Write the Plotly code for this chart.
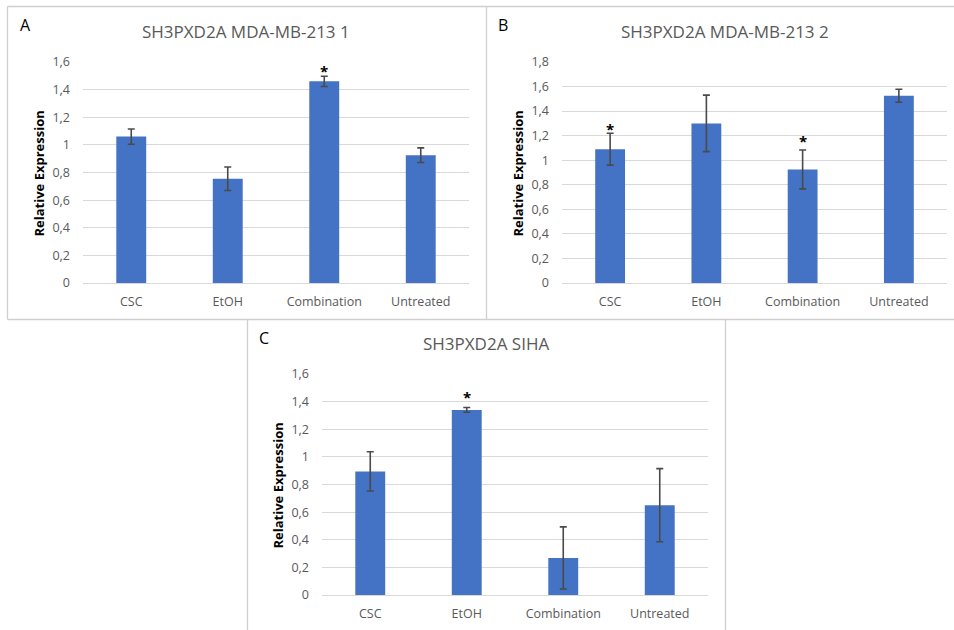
import plotly.graph_objects as go

W, H = 954, 630

categories = ["CSC", "EtOH", "Combination", "Untreated"]

# Panel A: SH3PXD2A MDA-MB-213 1
a_values = [1.06, 0.755, 1.46, 0.925]
a_errors = [0.055, 0.085, 0.037, 0.053]
a_stars = [None, None, 1.555, None]
a_ticks = [0, 0.2, 0.4, 0.6, 0.8, 1.0, 1.2, 1.4, 1.6]
a_ticktext = ["0", "0,2", "0,4", "0,6", "0,8", "1", "1,2", "1,4", "1,6"]

# Panel B: SH3PXD2A MDA-MB-213 2
b_values = [1.09, 1.30, 0.925, 1.525]
b_errors = [0.13, 0.23, 0.158, 0.053]
b_stars = [1.275, None, 1.18, None]
b_ticks = [0, 0.2, 0.4, 0.6, 0.8, 1.0, 1.2, 1.4, 1.6, 1.8]
b_ticktext = ["0", "0,2", "0,4", "0,6", "0,8", "1", "1,2", "1,4", "1,6", "1,8"]

# Panel C: SH3PXD2A SIHA
c_values = [0.895, 1.34, 0.268, 0.65]
c_errors = [0.142, 0.017, 0.225, 0.265]
c_stars = [None, 1.455, None, None]
c_ticks = a_ticks
c_ticktext = a_ticktext

BAR = "#4472C4"
GRID = "#D9D9D9"
TXT = "#595959"
ERR = "#4A4A4A"
FONT = "Open Sans, Noto Sans, sans-serif"


def px_x(x):
    return x / W


def px_y(y):
    return 1 - y / H


panels = [
    dict(letter="A", title="SH3PXD2A MDA-MB-213 1", values=a_values, errors=a_errors,
         stars=a_stars, ticks=a_ticks, ticktext=a_ticktext, ymax=1.6,
         plot=(83, 469, 62, 283), title_xy=(246, 31), letter_xy=(25, 25), ytitle_x=38),
    dict(letter="B", title="SH3PXD2A MDA-MB-213 2", values=b_values, errors=b_errors,
         stars=b_stars, ticks=b_ticks, ticktext=b_ticktext, ymax=1.8,
         plot=(562, 947, 62, 283), title_xy=(725, 31), letter_xy=(503, 25), ytitle_x=517),
    dict(letter="C", title="SH3PXD2A SIHA", values=c_values, errors=c_errors,
         stars=c_stars, ticks=c_ticks, ticktext=c_ticktext, ymax=1.6,
         plot=(322, 708, 374, 595), title_xy=(486, 344), letter_xy=(264, 338), ytitle_x=277),
]

fig = go.Figure()
annotations = []
shapes = []
layout_axes = {}

for i, p in enumerate(panels, start=1):
    xa = "x" if i == 1 else f"x{i}"
    ya = "y" if i == 1 else f"y{i}"
    fig.add_trace(go.Bar(
        x=categories, y=p["values"], xaxis=xa, yaxis=ya,
        marker=dict(color=BAR, line=dict(width=0)),
        error_y=dict(type="data", array=p["errors"], visible=True,
                     color=ERR, thickness=1.6, width=3.5),
        showlegend=False, hoverinfo="skip",
    ))
    x0, x1, y0, y1 = p["plot"]
    xkey = "xaxis" if i == 1 else f"xaxis{i}"
    ykey = "yaxis" if i == 1 else f"yaxis{i}"
    layout_axes[xkey] = dict(
        domain=[px_x(x0), px_x(x1)], anchor=ya, showgrid=False, showline=False,
        zeroline=False, ticks="", tickfont=dict(family=FONT, size=12.5, color=TXT),
        ticklabelstandoff=9, fixedrange=True, automargin=False,
    )
    layout_axes[ykey] = dict(
        domain=[px_y(y1), px_y(y0)], anchor=xa, range=[0, p["ymax"]],
        tickvals=p["ticks"], ticktext=p["ticktext"], showgrid=True, gridcolor=GRID,
        gridwidth=1.3, zeroline=True, zerolinecolor=GRID, zerolinewidth=1.3,
        showline=False, ticks="", tickfont=dict(family=FONT, size=12.5, color=TXT),
        ticklabelstandoff=12, fixedrange=True, automargin=False,
    )
    # chart title
    annotations.append(dict(
        text=p["title"], x=px_x(p["title_xy"][0]), y=px_y(p["title_xy"][1]),
        xref="paper", yref="paper", xanchor="center", yanchor="middle",
        showarrow=False, font=dict(family=FONT, size=17, color=TXT),
    ))
    # panel letter
    annotations.append(dict(
        text=p["letter"], x=px_x(p["letter_xy"][0]), y=px_y(p["letter_xy"][1]),
        xref="paper", yref="paper", xanchor="center", yanchor="middle",
        showarrow=False, font=dict(family=FONT, size=16, color="#000000"),
    ))
    # y-axis title
    annotations.append(dict(
        text="<b>Relative Expression</b>", x=px_x(p["ytitle_x"]),
        y=px_y((y0 + y1) / 2 + 1), xref="paper", yref="paper",
        xanchor="center", yanchor="middle", textangle=-90, showarrow=False,
        font=dict(family=FONT, size=13, color="#000000"),
    ))
    # significance markers
    for cat, s in zip(categories, p["stars"]):
        if s is None:
            continue
        annotations.append(dict(
            text="<b>*</b>", x=cat, y=s, xref=xa, yref=ya, xanchor="center",
            yanchor="middle", yshift=-3, showarrow=False,
            font=dict(family=FONT, size=15, color="#000000"),
        ))

# panel frames
frame = dict(type="line", xref="paper", yref="paper",
             line=dict(color="#D0D0D0", width=1.3))
for (xa0, ya0, xa1, ya1) in [
    (7.5, 6.5, 954, 6.5),        # top of A and B
    (7.5, 6.5, 7.5, 319.5),      # left of A
    (7.5, 319.5, 954, 319.5),    # bottom of A and B
    (486.5, 6.5, 486.5, 319.5),  # divider A|B
    (247.5, 319.5, 247.5, 630),  # left of C
    (725.5, 319.5, 725.5, 630),  # right of C
]:
    shapes.append(dict(frame, x0=px_x(xa0), y0=px_y(ya0), x1=px_x(xa1), y1=px_y(ya1)))

fig.update_layout(
    width=W, height=H, autosize=False, margin=dict(l=0, r=0, t=0, b=0, pad=0),
    paper_bgcolor="white", plot_bgcolor="white", showlegend=False,
    bargap=0.69, annotations=annotations, shapes=shapes,
    **layout_axes,
)

fig.write_html("out.html", config=dict(displayModeBar=False))
